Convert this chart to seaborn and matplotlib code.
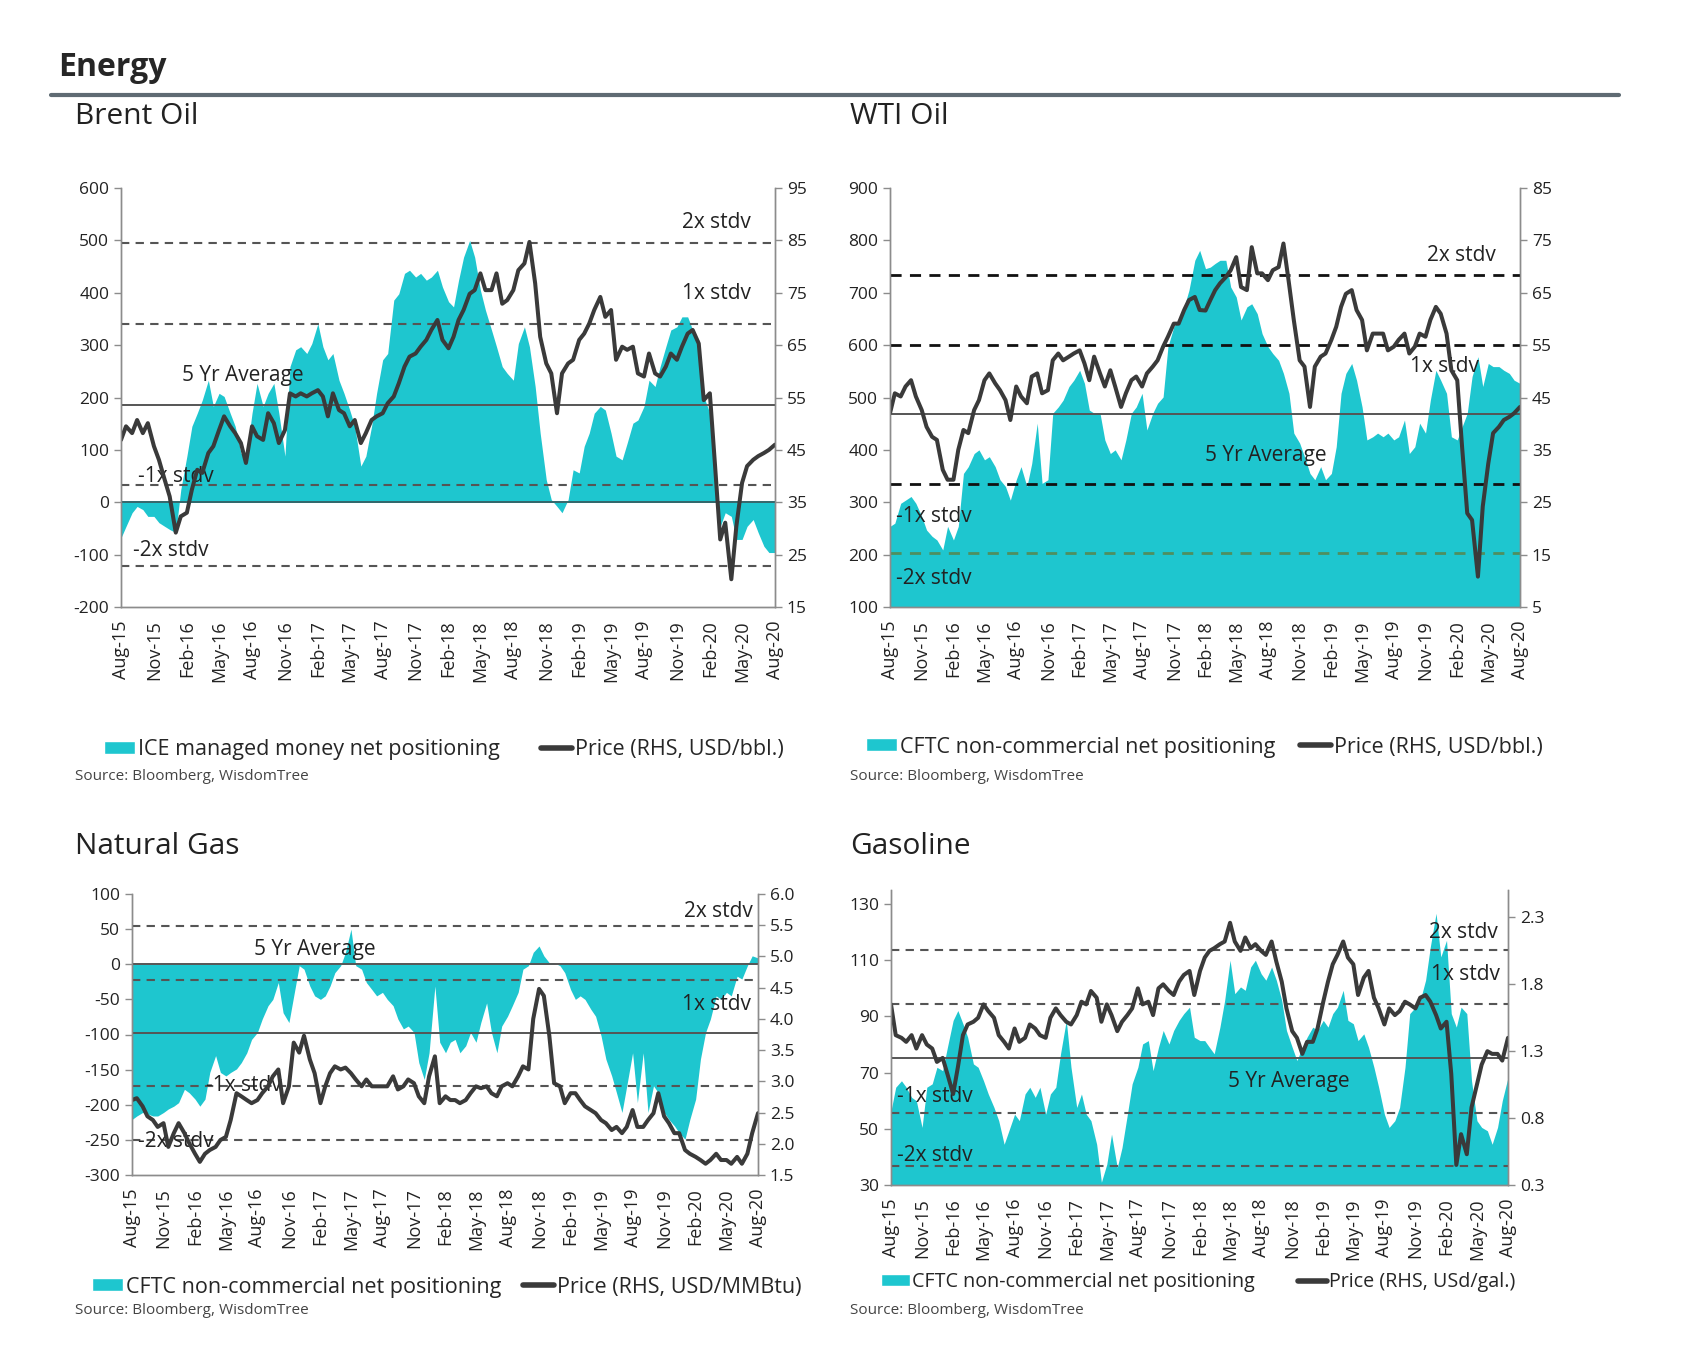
import numpy as np
import pandas as pd
import matplotlib
matplotlib.use("Agg")
import matplotlib.pyplot as plt
from matplotlib.patches import Patch
from matplotlib.lines import Line2D
from matplotlib.ticker import FormatStrFormatter
import seaborn as sns

# semi-monthly dates, Aug-15 .. Aug-20
dates = pd.date_range("2015-08-01", periods=121, freq="SMS")
tick_dates = dates[::6]
tick_labels = [d.strftime("%b-%y") for d in tick_dates]

# Brent: ICE managed money net positioning (k contracts) and price (USD/bbl)
brent_pos = [-68, -46, -20, -8, -14, -27, -27, -39, -46, -52, -58,
             24, 88, 145, 170, 195, 233, 183, 208, 202, 170,
             145, 94, 81, 170, 227, 183, 208, 227, 170, 88,
             259, 291, 297, 284, 303, 341, 297, 272, 284, 233,
             208, 176, 145, 69, 88, 145, 208, 272, 284, 386,
             398, 437, 443, 430, 437, 424, 430, 443, 411, 383,
             373, 424, 468, 500, 468, 405, 367, 329, 297, 259,
             246, 233, 303, 335, 297, 221, 132, 43, 5, -8,
             -20, 5, 62, 56, 107, 132, 170, 183, 176, 132,
             88, 81, 113, 151, 157, 183, 233, 221, 259, 297,
             329, 335, 354, 354, 329, 310, 202, 170, 43, -46,
             -20, -27, -71, -71, -46, -33, -58, -84, -96, -96]
brent_price = [46.9, 49.5, 48.2, 50.7, 48.2, 50.1, 45.7, 43.1, 39.3, 36.1, 29.2,
               32.3, 33, 37.4, 41.2, 40.6, 44.4, 45.7, 48.8, 51.4, 49.5,
               48.2, 46.3, 42.5, 49.5, 47.6, 46.9, 52, 50.1, 46.3, 48.8,
               55.8, 55.2, 55.8, 55.2, 55.8, 56.4, 55.2, 51.4, 55.8, 52.6,
               52, 49.5, 50.7, 46.3, 48.2, 50.7, 51.4, 52, 53.9, 55.2,
               57.7, 60.9, 62.8, 63.4, 64.7, 66, 67.9, 69.8, 66, 64.4,
               66.6, 69.8, 71.7, 74.8, 75.5, 78.7, 75.5, 75.5, 78.7, 72.9,
               73.6, 75.5, 79.3, 80.6, 84.7, 76.8, 66.6, 61.5, 59.6, 52,
               59.6, 61.5, 62.2, 66, 67.2, 69.1, 71.7, 74.2, 70.4, 71.7,
               62.2, 64.7, 64.1, 64.7, 59.6, 59, 63.4, 59.6, 59, 60.9,
               63.4, 62.2, 64.7, 67.2, 67.9, 65.3, 54.5, 55.8, 42.5, 27.9,
               31.1, 20.3, 30.4, 38.7, 41.9, 43.1, 43.8, 44.4, 45, 46]
brent_levels = [495, 340, 185, 32, -122]

# WTI: CFTC non-commercial net positioning and price (USD/bbl)
wti_pos = [254, 260, 298, 304, 311, 298, 273, 247, 235, 228, 209,
           254, 228, 254, 355, 368, 393, 400, 381, 387, 368,
           343, 330, 304, 343, 368, 330, 374, 451, 336, 343,
           470, 482, 495, 521, 533, 552, 527, 476, 470, 470,
           419, 393, 400, 381, 419, 470, 482, 508, 438, 470,
           489, 501, 597, 635, 648, 673, 705, 762, 781, 746,
           749, 756, 762, 762, 711, 692, 648, 673, 679, 660,
           622, 597, 584, 571, 546, 508, 432, 413, 387, 355,
           343, 368, 343, 355, 406, 508, 546, 565, 533, 482,
           419, 425, 432, 425, 432, 419, 425, 457, 393, 406,
           451, 432, 495, 552, 533, 508, 425, 419, 444, 470,
           540, 578, 521, 565, 559, 559, 552, 546, 533, 527]
wti_price = [42, 45.8, 45.2, 47.1, 48.3, 45.2, 42.6, 39.4, 37.5, 36.9, 31.2,
             29.3, 29.3, 35, 38.8, 38.2, 42.6, 44.5, 48.3, 49.6, 47.7,
             46.4, 44.5, 40.7, 47.1, 45.2, 43.9, 49, 49.6, 45.8, 46.4,
             52.1, 53.4, 52.1, 52.8, 53.4, 54, 51.5, 48.3, 52.8, 49.6,
             47.1, 50.2, 47.1, 43.2, 45.8, 48.3, 49, 47.1, 49.6, 50.9,
             52.1, 54.7, 56.6, 59.1, 59.1, 61.7, 63.6, 64.2, 61.7, 61.6,
             63.6, 65.5, 66.8, 68, 69.3, 71.8, 66.1, 65.5, 73.7, 68.7,
             68.7, 67.4, 69.3, 69.9, 74.4, 66.8, 59.8, 52.1, 50.9, 43.2,
             50.9, 52.8, 53.4, 56, 58.5, 62.3, 64.8, 65.5, 61.7, 59.8,
             54, 57.2, 57.2, 57.2, 54, 54.7, 56, 57.2, 53.4, 54.7,
             57.2, 56.6, 59.8, 62.3, 61, 57.2, 50.2, 48.3, 35.6, 22.9,
             21.6, 10.8, 24.2, 32.4, 38.2, 39.4, 40.7, 41.3, 42, 43.2]
wti_levels = [733, 600, 468, 335, 203]

# Natural gas: CFTC non-commercial net positioning and price (USD/MMBtu)
ng_pos = [-221, -216, -211, -213, -216, -216, -211, -206, -202, -197, -178,
          -183, -192, -202, -192, -154, -130, -154, -159, -154, -149,
          -140, -126, -107, -97, -78, -59, -50, -26, -69, -83,
          -45, -2, -7, -31, -45, -50, -45, -31, -12, -2,
          17, 50, -2, -7, -26, -36, -45, -40, -50, -59,
          -78, -92, -88, -97, -140, -164, -126, -31, -111, -126,
          -111, -107, -126, -116, -97, -111, -83, -55, -97, -126,
          -88, -74, -59, -40, -7, -2, 17, 26, 12, 2,
          2, -2, -12, -36, -50, -45, -50, -64, -74, -102,
          -135, -159, -183, -211, -173, -126, -197, -126, -211, -173,
          -183, -211, -221, -230, -240, -249, -221, -192, -135, -97,
          -78, -45, -50, -40, -45, -17, -21, -2, 12, 9]
ng_price = [2.7, 2.73, 2.6, 2.44, 2.38, 2.27, 2.33, 1.95, 2.17, 2.33, 2.17,
            2.01, 1.84, 1.71, 1.84, 1.9, 1.95, 2.06, 2.11, 2.38, 2.81,
            2.76, 2.7, 2.65, 2.7, 2.81, 2.92, 3.08, 3.19, 2.65, 2.92,
            3.62, 3.46, 3.73, 3.35, 3.13, 2.65, 2.92, 3.13, 3.24, 3.19,
            3.22, 3.13, 3.03, 2.92, 3.03, 2.92, 2.92, 2.92, 2.92, 3.08,
            2.87, 2.92, 3.03, 2.97, 2.76, 2.65, 3.08, 3.4, 2.65, 2.76,
            2.7, 2.7, 2.65, 2.7, 2.81, 2.92, 2.89, 2.92, 2.81, 2.76,
            2.92, 2.97, 2.92, 3.08, 3.24, 3.19, 4.0, 4.48, 4.37, 3.73,
            2.97, 2.92, 2.65, 2.81, 2.81, 2.7, 2.6, 2.54, 2.49, 2.38,
            2.33, 2.22, 2.27, 2.17, 2.27, 2.54, 2.27, 2.27, 2.38, 2.49,
            2.81, 2.44, 2.33, 2.17, 2.17, 1.9, 1.84, 1.79, 1.74, 1.68,
            1.74, 1.84, 1.74, 1.74, 1.68, 1.79, 1.68, 1.84, 2.17, 2.49]
ng_levels = [54, -22, -98, -173, -250]

# Gasoline: CFTC non-commercial net positioning and price (USd/gal)
gas_pos = [56.4, 64.8, 67.1, 64.8, 61.2, 60, 50.5, 64.8, 66, 71.9, 70.7,
           79, 88.6, 92.1, 87.4, 82.6, 73.1, 71.9, 67.1, 62.4, 57.6,
           52.9, 44.5, 49.3, 55.2, 52.9, 62.4, 64.8, 61.2, 64.8, 55.2,
           62.4, 64.8, 76.7, 88.6, 71.9, 57.6, 62.4, 55.2, 52.9, 44.5,
           31, 37.4, 48.1, 36.2, 43.3, 55.2, 66, 71.9, 80.2, 81.4,
           70.7, 79, 85, 80.2, 85, 88.6, 91, 93.3, 82.6, 81.4,
           81.4, 79, 76.7, 86.2, 95.7, 110, 98.1, 100.5, 99.3, 107.6,
           110, 105.2, 102.9, 107.6, 102.9, 95.7, 85, 79, 74.3, 79,
           82.6, 86.2, 85, 88.6, 86.2, 91, 93.3, 99.3, 88.6, 87.4,
           81.4, 83.8, 79, 71.9, 64.8, 55.2, 50.5, 52.9, 57.6, 71.9,
           91, 93.3, 95.7, 102.9, 114.8, 126.7, 111.2, 117.1, 91, 86.2,
           93.3, 91, 67.1, 52.9, 50.5, 49.3, 44.5, 50.5, 60, 68.3]
gas_price = [1.65, 1.42, 1.4, 1.37, 1.42, 1.32, 1.42, 1.35, 1.32, 1.22, 1.25,
             1.13, 0.98, 1.18, 1.42, 1.5, 1.52, 1.55, 1.65, 1.6, 1.55,
             1.42, 1.37, 1.32, 1.47, 1.37, 1.4, 1.5, 1.47, 1.42, 1.4,
             1.55, 1.62, 1.57, 1.52, 1.5, 1.57, 1.67, 1.65, 1.75, 1.7,
             1.52, 1.65, 1.57, 1.45, 1.52, 1.57, 1.62, 1.77, 1.65, 1.67,
             1.57, 1.77, 1.8, 1.75, 1.72, 1.82, 1.87, 1.9, 1.72, 1.9,
             2.0, 2.05, 2.07, 2.1, 2.12, 2.26, 2.12, 2.05, 2.15, 2.07,
             2.1, 2.05, 2.02, 2.12, 1.97, 1.82, 1.62, 1.45, 1.4, 1.28,
             1.37, 1.37, 1.47, 1.67, 1.82, 1.95, 2.02, 2.12, 2.0, 1.95,
             1.72, 1.85, 1.9, 1.7, 1.62, 1.5, 1.62, 1.57, 1.6, 1.67,
             1.65, 1.62, 1.7, 1.72, 1.67, 1.57, 1.47, 1.52, 1.13, 0.45,
             0.68, 0.53, 0.88, 1.05, 1.2, 1.3, 1.28, 1.28, 1.23, 1.4]
gas_levels = [113.5, 94.5, 75.2, 55.5, 36.8]

TEAL = "#1ec6cf"
DARK = "#3a3a3a"
GREY = "#8c8c8c"

sns.set_style("white")
plt.rcParams["font.family"] = ["Open Sans", "DejaVu Sans"]
plt.rcParams["axes.unicode_minus"] = False

W, H = 1706, 1366
fig = plt.figure(figsize=(W / 100, H / 100), dpi=100)


def px_axes(l, t, r, b):
    return fig.add_axes([l / W, 1 - b / H, (r - l) / W, (b - t) / H])


def draw_panel(box, pos, price, ylim, yticks, rlim, rticks, levels, dash_col, dash_lw, rfmt=None):
    ax = px_axes(*box)
    ax.fill_between(dates, 0, pos, color=TEAL, lw=0)
    ax2 = ax.twinx()
    df = pd.DataFrame({"date": dates, "price": price})
    sns.lineplot(data=df, x="date", y="price", ax=ax2, color=DARK, lw=2.9)
    for i, lv in enumerate(levels):
        if i == 2:
            ax.axhline(lv, color="#555555", lw=1.4, zorder=3)
        else:
            col = dash_col[i] if isinstance(dash_col, list) else dash_col
            ax.axhline(lv, color=col, lw=dash_lw, ls=(0, (4, 3)), zorder=3)
    ax.set_xlim(dates[0], dates[-1])
    ax.set_ylim(*ylim)
    ax.set_yticks(yticks)
    ax2.set_ylim(*rlim)
    ax2.set_yticks(rticks)
    if rfmt:
        ax2.yaxis.set_major_formatter(FormatStrFormatter(rfmt))
    ax.set_xticks(tick_dates)
    ax.set_xticklabels(tick_labels, rotation=90)
    for a in (ax, ax2):
        a.set_xlabel("")
        a.set_ylabel("")
        a.spines["top"].set_visible(False)
        for s in ("left", "right", "bottom"):
            a.spines[s].set_color(GREY)
            a.spines[s].set_linewidth(1.0)
        a.tick_params(axis="both", colors=GREY, labelcolor="#222222", length=5, width=1, labelsize=12.5)
    ax.tick_params(axis="x", labelsize=13, length=6)
    ax.grid(False)
    ax2.grid(False)
    return ax, ax2


def legend_entry(handle, label, x, y, size=15.5):
    fig.legend([handle], [label], loc="center left", bbox_to_anchor=(x / W, 1 - y / H),
               frameon=False, fontsize=size, handlelength=1.45, handletextpad=0.12,
               borderpad=0, borderaxespad=0, handleheight=0.55)


def note(ax, x, y, s, ha="left"):
    ax.text(x, y, s, transform=ax.get_yaxis_transform(), ha=ha, va="center",
            fontsize=15, color="#222222", zorder=5)


def source(x, y):
    fig.text(x / W, 1 - y / H, "Source: Bloomberg, WisdomTree", fontsize=11, va="center", color="#444444")


# header
fig.text(58 / W, 1 - 68 / H, "Energy", fontsize=23, fontweight="bold", va="center", ha="left")
fig.add_artist(Line2D([51 / W, 1619 / W], [1 - 95 / H, 1 - 95 / H], color="#5f6b73", lw=3))

# Brent
fig.text(75 / W, 1 - 117 / H, "Brent Oil", fontsize=21.5, va="center", ha="left", color="#222222")
ax, ax2 = draw_panel((121, 188, 775, 607), brent_pos, brent_price, (-200, 600), range(-200, 601, 100),
                     (15, 95), range(15, 96, 10), brent_levels, "#555555", 1.5)
ax.axhline(0, color="#33666a", lw=1.4, zorder=3)
note(ax, 0.963, 535, "2x stdv", "right")
note(ax, 0.963, 398, "1x stdv", "right")
note(ax, 0.093, 242, "5 Yr Average")
note(ax, 0.026, 49, "-1x stdv")
note(ax, 0.018, -92, "-2x stdv")
legend_entry(Patch(facecolor=TEAL), "ICE managed money net positioning", 104, 750)
legend_entry(Line2D([], [], color=DARK, lw=4), "Price (RHS, USD/bbl.)", 541, 750)
source(75, 777)

# WTI
fig.text(850 / W, 1 - 117 / H, "WTI Oil", fontsize=21.5, va="center", ha="left", color="#222222")
ax, ax2 = draw_panel((890, 188, 1520, 607), wti_pos, wti_price, (100, 900), range(100, 901, 100),
                     (5, 85), range(5, 86, 10), wti_levels,
                     ["#111111", "#111111", None, "#111111", "#4f8f5f"], 2.0)
note(ax, 0.962, 771, "2x stdv", "right")
note(ax, 0.935, 559, "1x stdv", "right")
note(ax, 0.596, 389, "5 Yr Average", "center")
note(ax, 0.01, 272, "-1x stdv")
note(ax, 0.01, 154, "-2x stdv")
legend_entry(Patch(facecolor=TEAL), "CFTC non-commercial net positioning", 866, 747)
legend_entry(Line2D([], [], color=DARK, lw=4), "Price (RHS, USD/bbl.)", 1300, 747)
source(850, 777)

# Natural gas
fig.text(75 / W, 1 - 847 / H, "Natural Gas", fontsize=21.5, va="center", ha="left", color="#222222")
ax, ax2 = draw_panel((132, 894, 758, 1175), ng_pos, ng_price, (-300, 100), range(-300, 101, 50),
                     (1.5, 6.0), np.arange(1.5, 6.01, 0.5), ng_levels, "#555555", 1.5, rfmt="%.1f")
ax.axhline(0, color="#555555", lw=1.4, zorder=3)
note(ax, 0.991, 75, "2x stdv", "right")
note(ax, 0.292, 21, "5 Yr Average", "center")
note(ax, 0.988, -58, "1x stdv", "right")
note(ax, 0.118, -173, "-1x stdv")
note(ax, 0.01, -253, "-2x stdv")
legend_entry(Patch(facecolor=TEAL), "CFTC non-commercial net positioning", 92, 1287)
legend_entry(Line2D([], [], color=DARK, lw=4), "Price (RHS, USD/MMBtu)", 523, 1287)
source(75, 1311)

# Gasoline
fig.text(850 / W, 1 - 847 / H, "Gasoline", fontsize=21.5, va="center", ha="left", color="#222222")
ax, ax2 = draw_panel((891, 890, 1508, 1185), gas_pos, gas_price, (30, 135), range(30, 131, 20),
                     (0.3, 2.505), np.arange(0.3, 2.31, 0.5), gas_levels, "#555555", 1.5, rfmt="%.1f")
note(ax, 0.983, 120, "2x stdv", "right")
note(ax, 0.987, 104.8, "1x stdv", "right")
note(ax, 0.645, 66.8, "5 Yr Average", "center")
note(ax, 0.01, 61.4, "-1x stdv")
note(ax, 0.01, 40.5, "-2x stdv")
legend_entry(Patch(facecolor=TEAL), "CFTC non-commercial net positioning", 881, 1282, size=14.2)
legend_entry(Line2D([], [], color=DARK, lw=4), "Price (RHS, USd/gal.)", 1298, 1282, size=14.2)
source(850, 1311)

fig.savefig("out.png", dpi=100, facecolor="white")
